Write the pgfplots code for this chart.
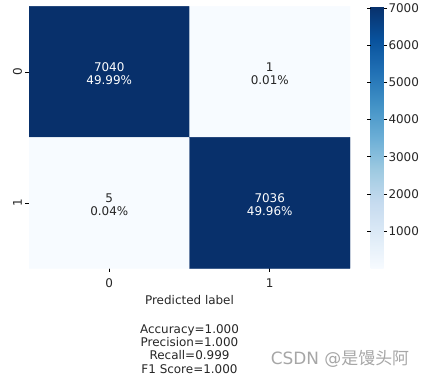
\documentclass[border=0pt]{standalone}
\usepackage{pgfplots}
\pgfplotsset{compat=1.18}
\usepackage{fontspec}
\setmainfont{DejaVu Sans}
\newfontfamily\cjk{Noto Sans CJK SC}
\definecolor{txtdark}{HTML}{262626}
\pgfplotsset{colormap={blues}{rgb255=(247,251,255) rgb255=(222,235,247) rgb255=(198,219,239) rgb255=(158,202,225) rgb255=(107,174,214) rgb255=(66,146,198) rgb255=(33,113,181) rgb255=(8,81,156) rgb255=(8,48,107)}}
\begin{document}
\begin{tikzpicture}
\path (0,0) rectangle (424bp,377bp);
\begin{axis}[
  at={(29bp,109bp)}, anchor=south west,
  scale only axis, width=321bp, height=262bp,
  xmin=-0.5, xmax=1.5, ymin=-0.5, ymax=1.5,
  y dir=reverse,
  colormap name=blues,
  point meta min=1, point meta max=7040,
  axis line style={draw=none},
  xtick={0,1}, ytick={0,1},
  tick align=outside, tick pos=left,
  major tick length=3.5bp,
  tick style={black, line width=0.6pt},
  /pgf/number format/assume math mode=true,
  ticklabel style={font=\fontsize{12}{14}\selectfont, text=txtdark},
  xticklabel style={yshift=-3bp},
  yticklabel style={rotate=90, anchor=south},
  xlabel style={align=center, font=\fontsize{12}{13.4}\selectfont, text=txtdark, yshift=-1bp},
  xlabel={Predicted label\\[2bp] \\Accuracy=1.000\\Precision=1.000\\Recall=0.999\\F1 Score=1.000},
  colorbar,
  colorbar style={
    at={(parent axis.north east)}, anchor=north west, xshift=12bp,
    width=13bp,
    axis line style={draw=none},
    ytick={1000,2000,3000,4000,5000,6000,7000},
    yticklabel pos=right,
    tick align=outside,
    major tick length=3.5bp,
    tick style={black, line width=0.6pt},
    /pgf/number format/assume math mode=true,
    /pgf/number format/1000 sep={},
    yticklabel style={font=\fontsize{12}{14}\selectfont, text=txtdark, xshift=-2bp},
  },
]
\addplot[matrix plot*, mesh/cols=2, point meta=explicit] coordinates {
  (0,0) [7040] (1,0) [1]
  (0,1) [5] (1,1) [7036]
};
\node[align=center, text=white, font=\fontsize{12}{13.5}\selectfont, yshift=-2bp] at (axis cs:0,0) {7040\\49.99\%};
\node[align=center, text=txtdark, font=\fontsize{12}{13.5}\selectfont, yshift=-2bp] at (axis cs:1,0) {1\\0.01\%};
\node[align=center, text=txtdark, font=\fontsize{12}{13.5}\selectfont, yshift=-2bp] at (axis cs:0,1) {5\\0.04\%};
\node[align=center, text=white, font=\fontsize{12}{13.5}\selectfont, yshift=-2bp] at (axis cs:1,1) {7036\\49.96\%};
\end{axis}
\node[text=black!35, font=\fontsize{17}{19}\selectfont, anchor=center] at (340bp,18bp) {CSDN @{\cjk 是馒头阿}};
\end{tikzpicture}
\end{document}
